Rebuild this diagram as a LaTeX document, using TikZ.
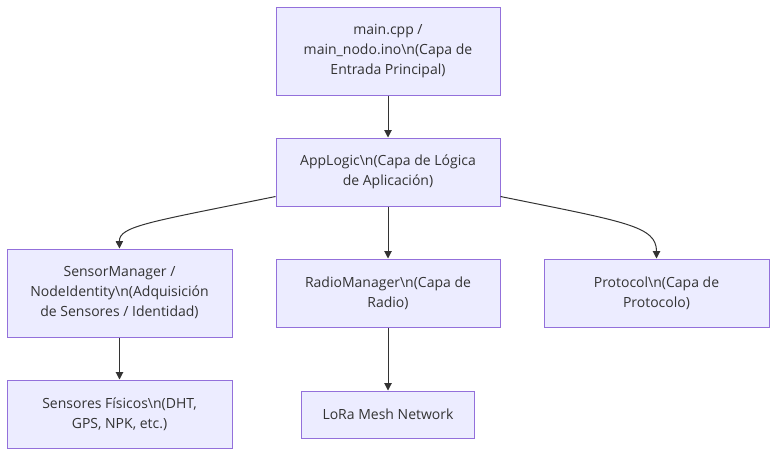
\documentclass[tikz,border=0pt]{standalone}
\usepackage{fontspec}
\setmainfont{Open Sans}
\usetikzlibrary{arrows.meta}
\definecolor{boxfill}{HTML}{ECECFF}
\definecolor{boxline}{HTML}{9370DB}
\definecolor{txt}{HTML}{333333}
\tikzset{
  px/.style={x=0.75pt,y=-0.75pt},
  box/.style={draw=boxline,fill=boxfill,line width=0.75pt,text=txt,align=center,
    font=\fontsize{10.5pt}{15pt}\selectfont,inner sep=0pt},
  link/.style={draw=txt,line width=0.75pt,-{Triangle[length=5.5pt,width=5.5pt]}}
}
\begin{document}
\begin{tikzpicture}[px]
\useasboundingbox (0,0) rectangle (784,461);
\node[box,minimum width=224*0.75pt,minimum height=88*0.75pt] (main) at (388,51)
  {main.cpp /\\main\_nodo.ino\textbackslash n(Capa de\\Entrada Principal)};
\node[box,minimum width=224*0.75pt,minimum height=68*0.75pt] (app) at (388,172)
  {AppLogic\textbackslash n(Capa de Lógica\\de Aplicación)};
\node[box,minimum width=225*0.75pt,minimum height=88*0.75pt] (sens) at (119.5,293)
  {SensorManager /\\NodeIdentity\textbackslash n(Adquisición\\de Sensores / Identidad)};
\node[box,minimum width=224*0.75pt,minimum height=68*0.75pt] (radio) at (388,293)
  {RadioManager\textbackslash n(Capa de\\Radio)};
\node[box,minimum width=225*0.75pt,minimum height=68*0.75pt] (proto) at (656.5,293)
  {Protocol\textbackslash n(Capa de\\Protocolo)};
\node[box,minimum width=225*0.75pt,minimum height=68*0.75pt] (fis) at (119.5,414)
  {Sensores Físicos\textbackslash n(DHT,\\GPS, NPK, etc.)};
\node[box,minimum width=173*0.75pt,minimum height=47*0.75pt] (lora) at (388,414.5)
  {LoRa Mesh Network};
\draw[link] (main) -- (app);
\draw[link] (app) -- (radio);
\draw[link] (sens) -- (fis);
\draw[link] (radio) -- (lora);
\draw[link] ([yshift=7.5pt]app.south west) .. controls (150,222) and (119,226) .. (sens.north);
\draw[link] ([yshift=7.5pt]app.south east) .. controls (626,222) and (656.5,226) .. (proto.north);
\end{tikzpicture}
\end{document}
